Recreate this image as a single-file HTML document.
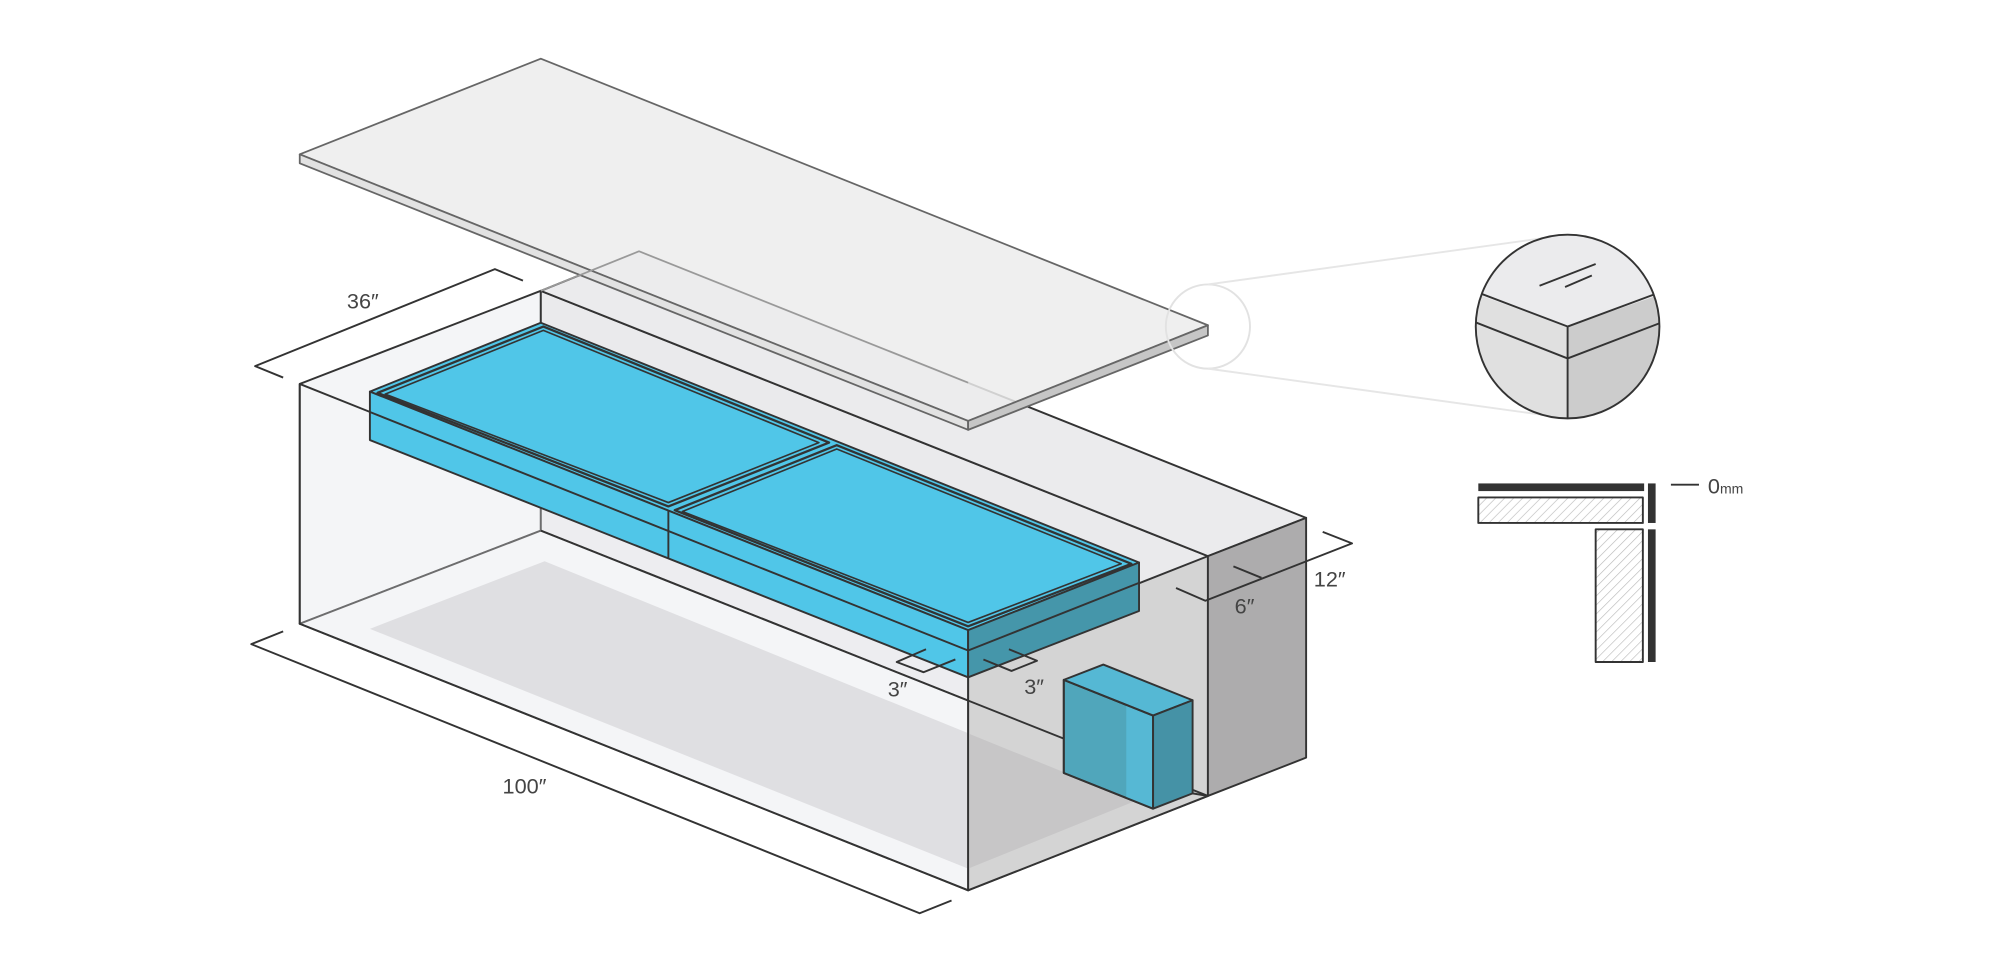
<!DOCTYPE html>
<html><head><meta charset="utf-8"><style>html,body{margin:0;padding:0;background:#fff}svg{display:block}text{font-family:"Liberation Sans",sans-serif;fill:#444;font-weight:normal}</style></head>
<body>
<svg width="2000" height="974" viewBox="0 0 1568 763.6" xmlns="http://www.w3.org/2000/svg">
<defs>
<pattern id="h" width="5" height="5" patternUnits="userSpaceOnUse" patternTransform="rotate(45)">
<rect width="5" height="5" fill="#fff"/><line x1="0" y1="0" x2="0" y2="5" stroke="#bbb" stroke-width="1"/></pattern>
<clipPath id="cc"><circle cx="1229" cy="256" r="72"/></clipPath>
</defs>
<g stroke="#333" stroke-width="1.5" stroke-linejoin="round">
<polygon points="235,301 424,228 424,416 235,489" fill="#f4f5f7"/>
<polygon points="424,228 947,436 947,624 424,416" fill="#eaeaec"/>
<polygon points="235,489 424,416 947,624 759,698" fill="#f4f5f7"/>
<polygon points="290,493 427,440 890,628 759,681" fill="#d6d6d8" stroke="none"/>
<polygon points="759,510 947,436 947,624 759,698" fill="#d4d4d4"/>
<polygon points="759,575 890,628 759,681" fill="#c7c6c7" stroke="none"/>
<polygon points="424,228 501,197 1024,406 947,436" fill="#ebebed"/>
<polygon points="947,436 1024,406 1024,594 947,624" fill="#adacad"/>
<polygon points="235,301 759,510 759,698 235,489" fill="#f4f5f7" fill-opacity="0.3"/>
<line x1="424" y1="416" x2="947" y2="624"/>
<polygon points="290,307 424,253 893,441 759,494" fill="#50c6e8"/>
<polygon points="290,307 759,494 759,531 290,345" fill="#50c6e8"/>
<polygon points="759,494 893,441 893,479 759,531" fill="#4596aa"/>
<polygon points="296,308 426,256 650,347 524,397" fill="#50c6e8" stroke-width="1.8"/>
<polygon points="302,309 426,259 642,347 524,394" fill="none" stroke-width="1.3"/>
<polygon points="529,400 656,349 887,442 759,491" fill="#50c6e8" stroke-width="1.8"/>
<polygon points="535,401 656,352 879,442 759,488" fill="none" stroke-width="1.3"/>
<line x1="524" y1="400" x2="524" y2="438"/>
<line x1="290" y1="323" x2="759" y2="510"/>
<line x1="759" y1="510" x2="893" y2="457"/>
<polygon points="834,533 904,561 904,634 834,606" fill="#50a6bb"/>
<polygon points="883,553 904,561 904,634 883,626" fill="#56b8d4" stroke="none"/>
<polygon points="834,533 865,521 935,549 904,561" fill="#55b8d4"/>
<polygon points="904,561 935,549 935,622 904,634" fill="#4592a6"/>
<polygon points="834,533 904,561 904,634 834,606" fill="none"/>
<line x1="935" y1="622" x2="947" y2="624"/>
<g stroke="#666" stroke-width="1.4">
<polygon points="235,121 424,46 947,255 759,330" fill="#ececec" fill-opacity="0.85"/>
<polygon points="235,121 759,330 759,337 235,128" fill="#e2e2e2"/>
<polygon points="759,330 947,255 947,263 759,337" fill="#c6c6c6"/>
</g>
<polyline points="424,228 501,197 759,300" fill="none" stroke="#999" stroke-width="1.3"/>
<g fill="none">
<polyline points="222,296 200,287 388,211 410,220"/>
<polyline points="222,495 197,505 721,716 746,706"/>
<polyline points="1037,417 1060,426 945,471 922,461"/>
<line x1="967" y1="444" x2="989" y2="453"/>
<polyline points="726,509 703,519 724,527 749,517"/>
<polyline points="791,509 813,518 793,526 771,517"/>
</g>
<circle cx="947" cy="256" r="33" fill="none" stroke="#e2e2e2"/>
<line x1="947" y1="223" x2="1215" y2="186" stroke="#e6e6e6"/>
<line x1="947" y1="289" x2="1215" y2="326" stroke="#e6e6e6"/>
<g clip-path="url(#cc)">
<rect x="1150" y="180" width="160" height="160" fill="#ebebed" stroke="none"/>
<polygon points="1150,228 1229,256 1229,340 1150,340" fill="#e0e0e0" stroke="none"/>
<polygon points="1310,228 1229,256 1229,340 1310,340" fill="#cccccc" stroke="none"/>
<polyline points="1150,226 1229,256 1310,226" fill="none"/>
<polyline points="1150,250 1229,281 1310,250" fill="none"/>
<line x1="1229" y1="256" x2="1229" y2="330"/>
</g>
<circle cx="1229" cy="256" r="72" fill="none"/>
<line x1="1207" y1="224" x2="1251" y2="207"/>
<line x1="1227" y1="225" x2="1248" y2="216"/>
<rect x="1159" y="379" width="130" height="6" fill="#333" stroke="none"/>
<rect x="1159" y="390" width="129" height="20" fill="url(#h)"/>
<rect x="1292" y="379" width="6" height="31" fill="#333" stroke="none"/>
<rect x="1292" y="415" width="6" height="104" fill="#333" stroke="none"/>
<rect x="1251" y="415" width="37" height="104" fill="url(#h)"/>
<line x1="1310" y1="380" x2="1332" y2="380"/>
</g>
<text x="272" y="242" font-size="17">36″</text>
<text x="394" y="622" font-size="17">100″</text>
<text x="1030" y="460" font-size="17">12″</text>
<text x="968" y="481" font-size="17">6″</text>
<text x="696" y="546" font-size="17">3″</text>
<text x="803" y="544" font-size="17">3″</text>
<text x="1339" y="387" font-size="17">0<tspan font-size="11">mm</tspan></text>
</svg>
</body></html>
